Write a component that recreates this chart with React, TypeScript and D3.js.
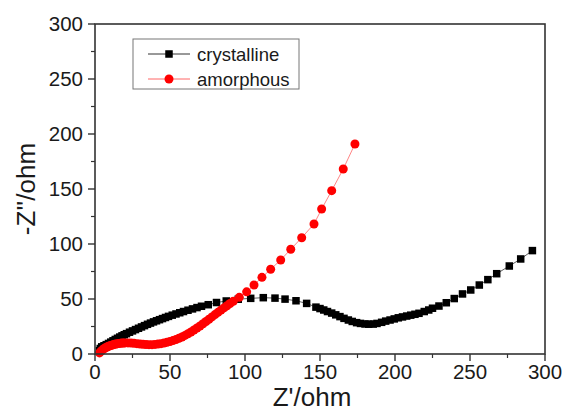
import * as d3 from "d3";

const W = 563;
const H = 416;
const M = { left: 95, right: 18, top: 24, bottom: 62 };

// crystalline sample
const crysX = [
  3, 3.5, 4.5, 6, 7.5, 9, 10.5, 12, 13.5, 15, 16.5, 18, 19.5, 21, 23, 25, 27, 29, 31, 33, 35, 37,
  39, 41, 43, 45, 47, 49, 51.5, 54, 56.5, 59, 62, 65, 68, 71, 75.5, 81, 87.5, 95.5, 103.8, 112.2,
  120, 126.7, 134, 141.1, 147.3, 150, 152.5, 155, 157.8, 160.5, 163.3, 166, 168.9, 171.5, 174.4,
  177, 180, 182.5, 185.5, 188, 191.1, 193.8, 196.7, 199.5, 202.2, 205, 207.8, 210.5, 213.3, 216,
  219.5, 222.5, 225, 229.3, 234.2, 239.5, 245, 250.5, 256.2, 261.9, 267.8, 276.2, 283.8, 291.6,
];
const crysY = [
  3, 5, 6.5, 7.5, 8.5, 9.6, 10.8, 12, 13.2, 14.3, 15.4, 16.5, 17.5, 18.5, 19.8, 21, 22.2, 23.4,
  24.6, 25.8, 27, 28.1, 29.2, 30.2, 31.2, 32.2, 33.2, 34.2, 35.3, 36.4, 37.5, 38.6, 39.8, 41, 42.2,
  43.4, 44.8, 46.8, 48.2, 49.8, 50.6, 51.2, 50.8, 49.9, 48.4, 46, 42.6, 41.3, 40, 38.6, 37.2, 35.6,
  34, 32.4, 30.9, 29.6, 28.5, 27.8, 27.3, 27.1, 27.2, 27.8, 28.8, 29.9, 30.9, 31.9, 32.9, 33.7,
  34.5, 35.3, 36.1, 37, 38.6, 40, 41.6, 43.6, 46.6, 50.4, 54.6, 58.2, 62.7, 67.6, 73, 80, 86.4, 94,
];

// amorphous sample
const amorX = [
  3, 4, 5, 6, 7, 8, 9, 10, 11, 12, 13, 14, 15, 16, 17, 18, 19, 20, 22, 24, 26, 28, 30, 32, 34, 36,
  38, 40, 42, 44, 46, 48, 50, 52, 54, 56, 58, 60, 62, 64, 66, 68, 70, 72, 74, 76, 78, 80, 82, 84,
  86, 88, 90, 92.2, 96.2, 101.1, 106, 111.3, 117.1, 123.8, 130.5, 137.8, 146, 151.1, 157.8, 165.5,
  173.3,
];
const amorY = [
  1, 2.5, 3.8, 4.8, 5.7, 6.4, 7, 7.5, 8, 8.4, 8.8, 9.1, 9.4, 9.6, 9.8, 9.9, 10, 10.1, 10.1, 10,
  9.7, 9.4, 9.1, 8.8, 8.6, 8.5, 8.5, 8.7, 9, 9.4, 10, 10.6, 11.4, 12.2, 13.2, 14.3, 15.5, 16.9,
  18.4, 20, 21.8, 23.6, 25.5, 27.5, 29.5, 31.6, 33.7, 35.8, 37.9, 39.9, 41.9, 43.9, 45.9, 48, 51.5,
  56.5, 62.7, 69.7, 77, 85.5, 95.2, 105.7, 118.2, 131.8, 148.5, 168.2, 190.9,
];

const xTicks = [0, 50, 100, 150, 200, 250, 300];
const yTicks = [0, 50, 100, 150, 200, 250, 300];
const minorTicks = [25, 75, 125, 175, 225, 275];

const legendNames = ["crystalline", "amorphous"];
const seriesColors = ["#000000", "#ff0000"];
const lineColors = ["#333333", "#ff6666"];

const FONT = "'Liberation Sans', Arial, sans-serif";
const AXIS = "#333";

export default function App() {
  const x = d3.scaleLinear().domain([0, 300]).range([M.left, W - M.right]);
  const y = d3.scaleLinear().domain([0, 300]).range([H - M.bottom, M.top]);
  const x0 = x(0);
  const y0 = y(0);
  const x1 = x(300);
  const y1 = y(300);

  const crys = crysX.map((v, i) => [v, crysY[i]] as [number, number]);
  const amor = amorX.map((v, i) => [v, amorY[i]] as [number, number]);
  const line = d3
    .line<[number, number]>()
    .x((d) => x(d[0]))
    .y((d) => y(d[1]));

  const lx = 133;
  const ly = 39;

  return (
    <svg width={W} height={H} style={{ position: "absolute", left: 0, top: 0, background: "#fff" }}>
      {/* crystalline */}
      <path d={line(crys) ?? ""} fill="none" stroke={lineColors[0]} strokeWidth={0.8} />
      {crys.map((d, i) => (
        <rect key={"c" + i} x={x(d[0]) - 3.75} y={y(d[1]) - 3.75} width={7.5} height={7.5} fill={seriesColors[0]} />
      ))}
      {/* amorphous */}
      <path d={line(amor) ?? ""} fill="none" stroke={lineColors[1]} strokeWidth={0.8} />
      {amor.map((d, i) => (
        <circle key={"a" + i} cx={x(d[0])} cy={y(d[1])} r={4.5} fill={seriesColors[1]} />
      ))}

      {/* frame */}
      <rect x={x0} y={y1} width={x1 - x0} height={y0 - y1} fill="none" stroke={AXIS} strokeWidth={1.6} />

      {/* x axis ticks */}
      {xTicks.map((t) => (
        <g key={"xt" + t}>
          <line x1={x(t)} x2={x(t)} y1={y0} y2={y0 + 7} stroke={AXIS} strokeWidth={1.4} />
          <text x={x(t)} y={y0 + 25} textAnchor="middle" fontFamily={FONT} fontSize={20.5} fill="#1a1a1a">
            {t}
          </text>
        </g>
      ))}
      {minorTicks.map((t) => (
        <line key={"xm" + t} x1={x(t)} x2={x(t)} y1={y0} y2={y0 + 4} stroke={AXIS} strokeWidth={1.2} />
      ))}

      {/* y axis ticks */}
      {yTicks.map((t) => (
        <g key={"yt" + t}>
          <line x1={x0 - 7} x2={x0} y1={y(t)} y2={y(t)} stroke={AXIS} strokeWidth={1.4} />
          <text x={x0 - 12} y={y(t) + 7} textAnchor="end" fontFamily={FONT} fontSize={20.5} fill="#1a1a1a">
            {t}
          </text>
        </g>
      ))}
      {minorTicks.map((t) => (
        <line key={"ym" + t} x1={x0 - 4} x2={x0} y1={y(t)} y2={y(t)} stroke={AXIS} strokeWidth={1.2} />
      ))}

      {/* axis titles */}
      <text x={(x0 + x1) / 2 - 8} y={406} textAnchor="middle" fontFamily={FONT} fontSize={26} fill="#1a1a1a">
        Z'/ohm
      </text>
      <text
        transform={`translate(35, ${(y0 + y1) / 2}) rotate(-90)`}
        textAnchor="middle"
        fontFamily={FONT}
        fontSize={26}
        fill="#1a1a1a"
      >
        -Z''/ohm
      </text>

      {/* legend */}
      <rect x={lx} y={ly} width={166} height={50} fill="#fff" stroke="#777" strokeWidth={1} />
      {legendNames.map((n, i) => {
        const cy = ly + 15 + i * 25;
        return (
          <g key={n}>
            <line x1={148} x2={190} y1={cy} y2={cy} stroke={lineColors[i]} strokeWidth={1} />
            {i === 0 ? (
              <rect x={165.25} y={cy - 3.75} width={7.5} height={7.5} fill={seriesColors[0]} />
            ) : (
              <circle cx={169} cy={cy} r={4.5} fill={seriesColors[1]} />
            )}
            <text x={197} y={cy + 7} fontFamily={FONT} fontSize={18.5} fill="#1a1a1a">
              {n}
            </text>
          </g>
        );
      })}
    </svg>
  );
}
